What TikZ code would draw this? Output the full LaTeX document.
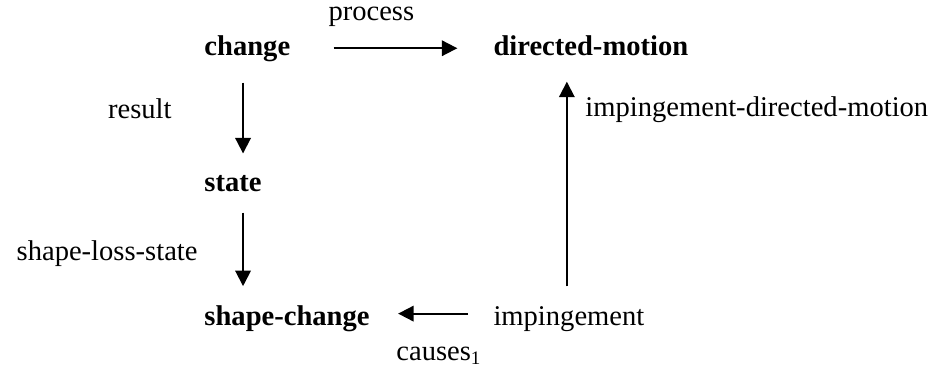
\documentclass[tikz,border=0pt]{standalone}
\usepackage{fontspec}
\setmainfont{Liberation Serif}
\usetikzlibrary{calc, positioning, arrows.meta}

\begin{document}
\begin{tikzpicture}[x=0.42pt,y=0.42pt,
		every node/.style={inner sep=0pt,font=\fontsize{12pt}{14pt}\selectfont},
		concept/.style={font=\fontsize{12pt}{14pt}\selectfont\bfseries},
		arr/.style={line width=0.8pt,-{Triangle[length=6.5pt,width=6.5pt]}}]
		\useasboundingbox (0,0) rectangle (943,-369);

		% left column
		\node[concept,anchor=base west] (change) at (204,-55) {change};
		\node[concept,below=57.5pt of change.base west,anchor=base west] (state) {state};
		\node[concept,below=56.3pt of state.base west,anchor=base west] (shapechange) {shape-change};

		% right column
		\node[concept,right=121.4pt of change.base west,anchor=base west] (dirmotion) {directed-motion};
		\node[right=121.4pt of shapechange.base west,anchor=base west] (impingement) {impingement};

		% relation labels
		\node[above right=14.3pt and 52.1pt of change.base west,anchor=base west] (process) {process};
		\node[below left=26.5pt and 13.4pt of change.base west,anchor=base east] (result) {result};
		\node[below left=28.6pt and 2.5pt of state.base west,anchor=base east] (shapeloss) {shape-loss-state};
		\node[below right=14.3pt and 80.6pt of shapechange.base west,anchor=base west] (causes) {causes\textsubscript{1}};
		\node[below right=26pt and 38.6pt of dirmotion.base west,anchor=base west] (impdirmotion) {impingement-directed-motion};

		% arrows
		\draw[arr] ([xshift=18pt]change.east) -- ([xshift=-15pt]change.east -| dirmotion.west);
		\draw[arr] ([xshift=16.4pt,yshift=-8.8pt]change.south west) -- ([xshift=16.4pt,yshift=9.2pt]state.north west);
		\draw[arr] ([xshift=16.4pt,yshift=-8.4pt]state.south west) -- ([xshift=16.4pt,yshift=8.2pt]shapechange.north west);
		\coordinate (leftstart) at ([xshift=-10.5pt,yshift=2.5pt]impingement.west);
		\draw[arr] (leftstart) -- ($(leftstart -| shapechange.east)+(11.8pt,0)$);
		\coordinate (upstart) at ([xshift=31pt,yshift=8.5pt]impingement.north west);
		\draw[arr] (upstart) -- ($(upstart |- dirmotion.south)+(0,-10.9pt)$);

	\end{tikzpicture}
\end{document}
